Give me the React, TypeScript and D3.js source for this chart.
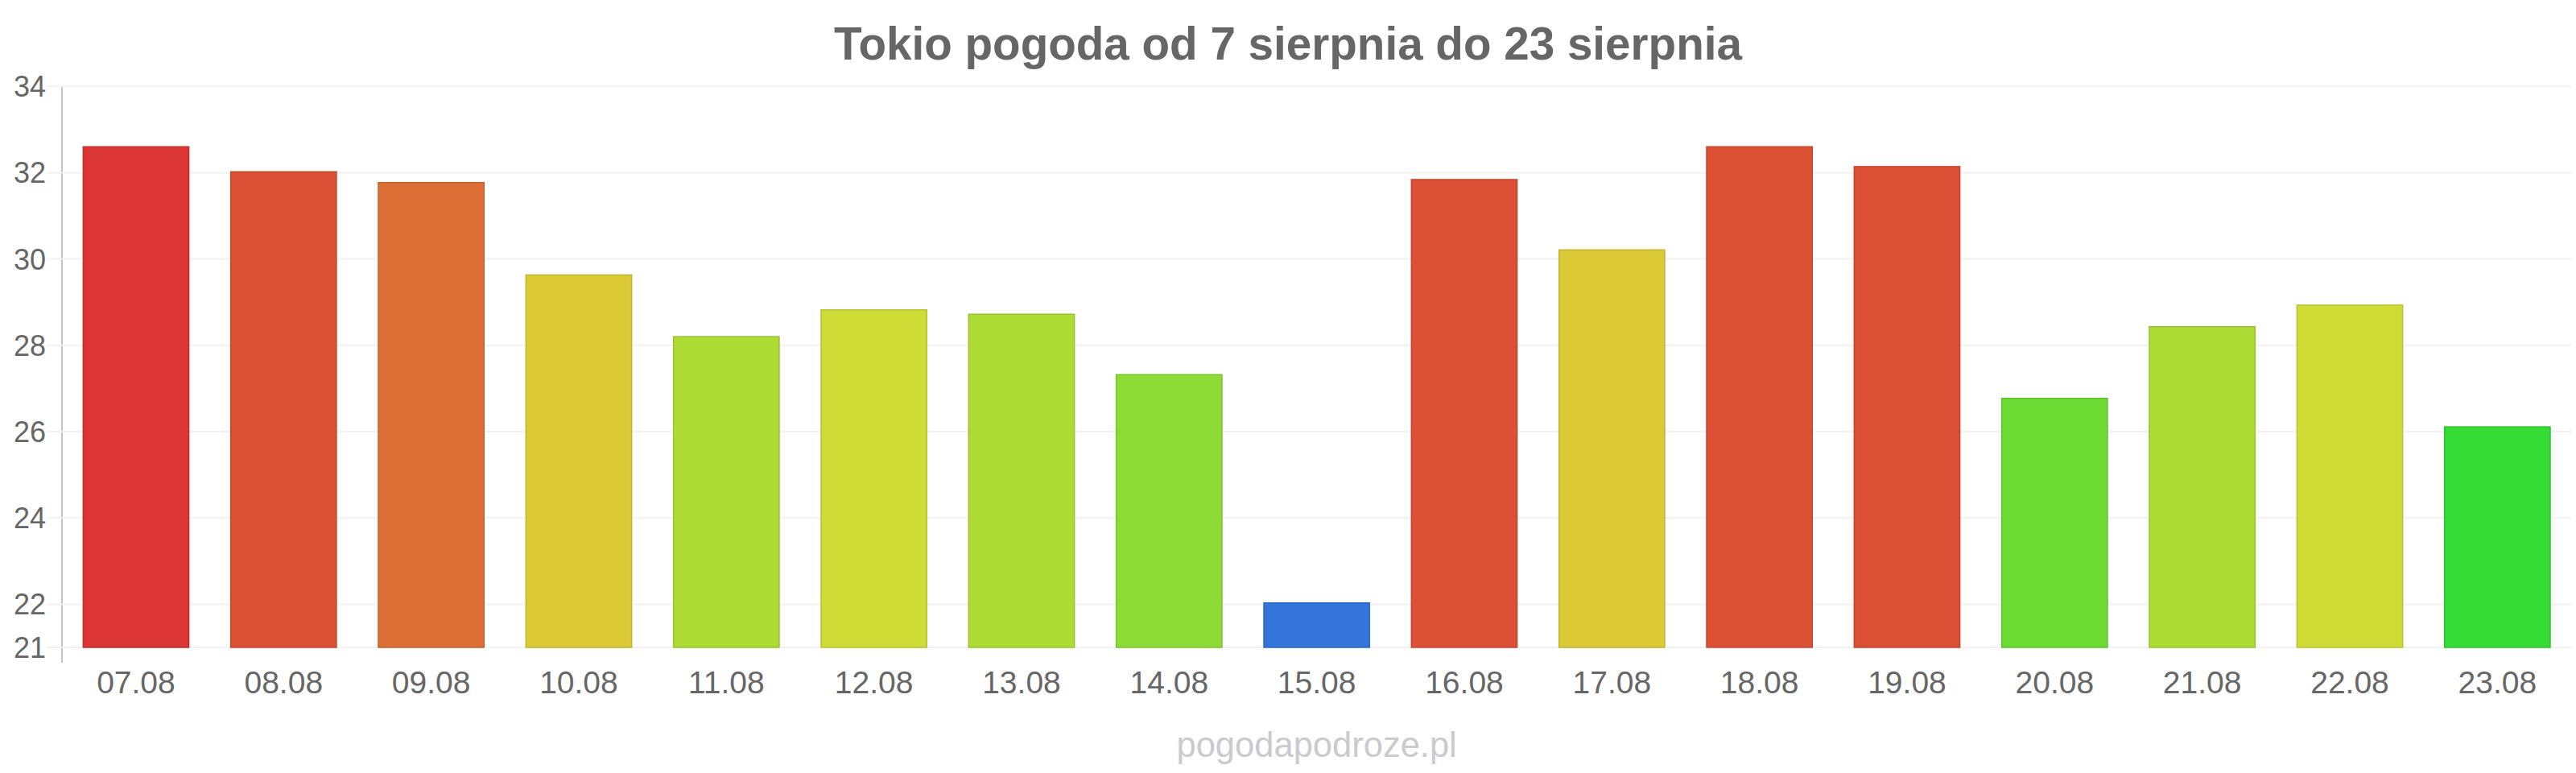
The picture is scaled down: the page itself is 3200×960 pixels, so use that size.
import React from "react";
import * as d3 from "d3";

const categories = ["07.08","08.08","09.08","10.08","11.08","12.08","13.08","14.08","15.08","16.08","17.08","18.08","19.08","20.08","21.08","22.08","23.08"];
const temps = [32.6, 32.02, 31.77, 29.63, 28.2, 28.82, 28.72, 27.32, 22.03, 31.84, 30.21, 32.6, 32.14, 26.77, 28.43, 28.93, 26.11];
const barColors = ["#db3535","#dc5035","#dc6f35","#dbca35","#addc35","#cedc35","#addc35","#8cdc35","#3575db","#dc5035","#dbca35","#dc5035","#dc5035","#6cdc35","#addc35","#cedc35","#35dc35"];
const yTicks = [21, 22, 24, 26, 28, 30, 32, 34];
const yDomain = [21, 34];
const title = "Tokio pogoda od 7 sierpnia do 23 sierpnia";
const watermark = "pogodapodroze.pl";

const W = 3200;
const H = 960;
const FONT = "'Liberation Sans', Arial, sans-serif";

export default function App() {
  const x = d3.scaleBand<string>().domain(categories).range([77.3, 3194]).paddingInner(0.284).paddingOuter(0.142);
  const y = d3.scaleLinear().domain(yDomain).range([804, 107.2]);
  const axisX = 77;
  const [x0, x1] = x.range();
  const plotCenter = (x0 + x1) / 2;
  return (
    <div style={{ position: "fixed", left: 0, top: 0 }}>
      <svg width={W} height={H} style={{ display: "block", background: "#fff" }}>
        <text x={W / 2} y={73.5} textAnchor="middle" fontFamily={FONT} fontWeight="bold" fontSize={56.6} fill="#666">{title}</text>
        <line x1={axisX} x2={axisX} y1={y(34)} y2={823} stroke="#c4c4c4" strokeWidth={2} />
        {yTicks.map((t) => (
          <g key={t}>
            <line x1={58} x2={3194} y1={y(t)} y2={y(t)} stroke="#f2f2f2" strokeWidth={2} />
            <text x={57} y={y(t)} dy="0.36em" textAnchor="end" fontFamily={FONT} fontSize={36} fill="#666">{t}</text>
          </g>
        ))}
        {categories.map((c, i) => {
          const fill = barColors[i];
          const stroke = d3.color(fill)!.darker(0.35).formatHex();
          return (
            <rect key={c} x={x(c)!} y={y(temps[i])} width={x.bandwidth()} height={y(yDomain[0]) - y(temps[i])} fill={fill} stroke={stroke} strokeWidth={1.5} />
          );
        })}
        {categories.map((c) => (
          <text key={c} x={x(c)! + x.bandwidth() / 2} y={861} textAnchor="middle" fontFamily={FONT} fontSize={39} fill="#666">{c}</text>
        ))}
        <text x={plotCenter} y={940} textAnchor="middle" fontFamily={FONT} fontSize={43.5} fill="#cacacf">{watermark}</text>
      </svg>
    </div>
  );
}
